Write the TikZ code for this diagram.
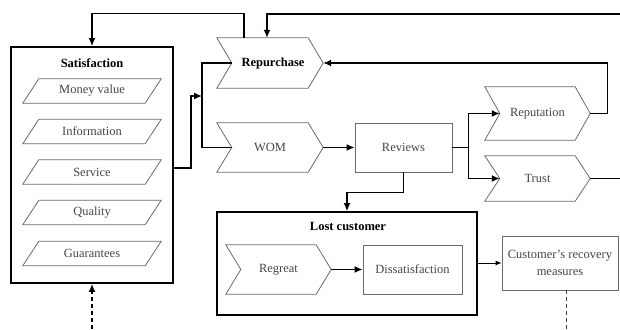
\documentclass[tikz,border=0pt]{standalone}
\usepackage{fontspec}
\setmainfont{Liberation Serif}
\usetikzlibrary{arrows.meta,calc}
\definecolor{txt}{HTML}{454545}
\definecolor{shp}{HTML}{6A6A6A}
\begin{document}
\begin{tikzpicture}[x=1pt,y=-1pt,
  font=\fontsize{12.5}{17}\selectfont,
  box/.style={draw=black, line width=1.8pt, inner sep=0},
  sbox/.style={draw=shp, line width=0.8pt, text=txt, inner sep=0},
  plain/.style={text=txt, inner sep=0},
  ttl/.style={font=\fontsize{12.5}{14}\selectfont\bfseries, inner sep=0, text=black},
  conn/.style={line width=1.4pt, draw=black},
  arr/.style={-{Latex[length=8pt,width=7pt]}},
  arrsmall/.style={-{Latex[length=6pt,width=5pt]}},
  shpline/.style={draw=shp, line width=0.8pt}]
\useasboundingbox (0,0) rectangle (620,329);

% Satisfaction group
\node[box, minimum width=162pt, minimum height=236pt] (sat) at (92,165) {};
\node[ttl] (satt) at (92,63) {Satisfaction};
\foreach \n/\y/\t in {mv/91/Money value, inf/131.5/Information, ser/172/Service, qua/212.5/Quality, gua/253.5/Guarantees} {
  \node[plain, minimum width=138pt, minimum height=24pt] (\n) at (92,\y) {\t};
  \draw[shpline] ([xshift=16pt]\n.north west) -- (\n.north east) -- ([xshift=-16pt]\n.south east) -- (\n.south west) -- cycle;
}

% Chevrons
\node[plain, ttl, minimum width=106pt, minimum height=50pt] (rep) at (270,63) {\hspace*{6pt}Repurchase};
\node[plain, minimum width=106pt, minimum height=49pt] (wom) at (270,147.5) {WOM};
\node[plain, minimum width=105pt, minimum height=53pt] (reput) at (537.5,113.5) {Reputation};
\node[plain, minimum width=105pt, minimum height=45pt] (trust) at (537.5,178.5) {Trust};
\node[plain, minimum width=105pt, minimum height=49pt] (reg) at (278.5,269.5) {Regreat};
\foreach \n in {rep,wom,reput,trust,reg} {
  \draw[shpline] (\n.north west) -- ([xshift=-15pt]\n.north east) -- (\n.east) -- ([xshift=-15pt]\n.south east) -- (\n.south west) -- ([xshift=15pt]\n.west) -- cycle;
}

% Boxes
\node[sbox, minimum width=97pt, minimum height=49pt] (rev) at (403.5,147.5) {Reviews};
\node[box, minimum width=260pt, minimum height=103pt] (lost) at (347,263.5) {};
\node[ttl] (lostt) at (348,226) {Lost customer};
\node[sbox, minimum width=99pt, minimum height=49pt] (dis) at (412.5,269.5) {Dissatisfaction};
\node[sbox, minimum width=116pt, minimum height=54pt, align=center] (rec) at (560,263) {Customer's recovery\\measures};

% Connectors
\draw[conn,arr] ([xshift=-26pt]rep.north) -- ++(0,-24) -| (sat.north);
\coordinate (rtop) at (620,14);
\draw[conn,arr] (rtop) -| ([xshift=-3pt]rep.north);
\draw[conn,arr] (reput.east) -- ++(17,0) |- (rep.east);
\coordinate (bus) at (202,96);
\draw[conn,arr] ([yshift=-3pt]sat.east) -- ++(17,0) |- (bus);
\draw[conn] ([xshift=15pt]rep.west) -| (bus) |- ([xshift=15pt]wom.west);
\draw[conn,arr] (wom.east) -- (rev.west);
\draw[conn] (rev.east) -- ++(16,0) coordinate (split);
\draw[conn,arr] (split) |- ([xshift=15pt]reput.west);
\draw[conn,arr] (split) |- ([xshift=15pt]trust.west);
\coordinate (rtrust) at (620,178.5);
\draw[conn] (trust.east) -- (rtrust);
\draw[conn,arr] (rev.south) -- ++(0,20) -| (lost.north);
\draw[conn,arr] (reg.east) -- (dis.west);
\draw[line width=0.9pt, arrsmall] (lost.east |- rec.west) -- (rec.west);
\coordinate (dend) at (566,329);
\draw[draw=txt, line width=0.9pt, dash pattern=on 4pt off 3pt] (rec.south -| dend) -- (dend);
\coordinate (dsrc) at (92,329);
\draw[conn, dash pattern=on 4pt off 3pt, arr] (dsrc) -- (sat.south);
\end{tikzpicture}
\end{document}
